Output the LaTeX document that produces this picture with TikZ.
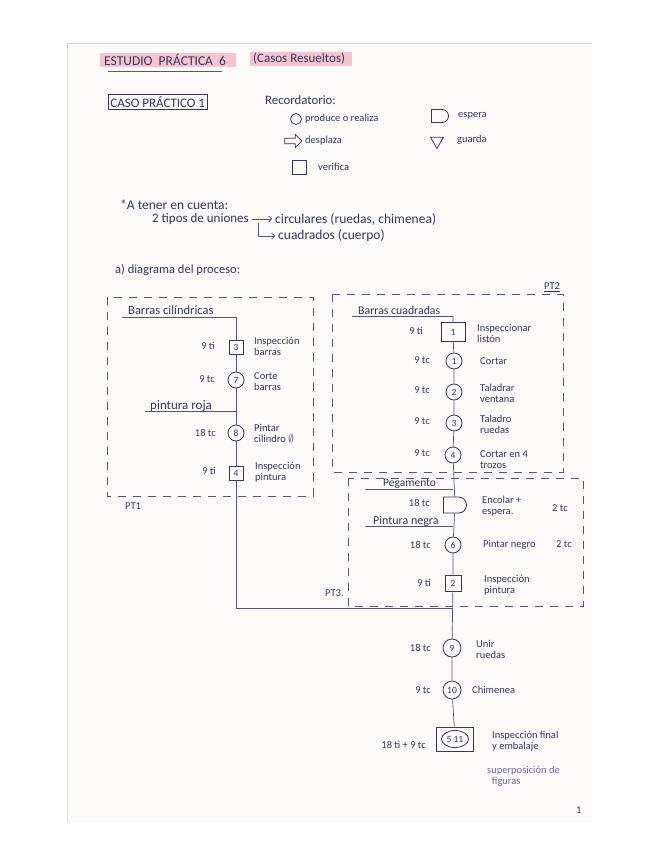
\documentclass[tikz,border=0pt]{standalone}
\usepackage{fontspec}
\setmainfont{Carlito}
\usetikzlibrary{shapes.misc,shapes.geometric,shapes.arrows,arrows.meta}
\definecolor{ink}{RGB}{55,55,95}
\definecolor{hl}{RGB}{246,196,206}
\definecolor{purp}{RGB}{115,105,175}
\definecolor{paper}{RGB}{251,250,249}
\definecolor{edge}{RGB}{226,214,198}
\newcommand{\fs}[1]{\fontsize{#1}{#1}\selectfont}
\begin{document}
\begin{tikzpicture}[x=1pt,y=-1pt,
  every node/.style={text=ink, font=\fontsize{10.5}{11}\selectfont},
  lbl/.style={anchor=west, align=left, inner sep=0pt},
  tm/.style={anchor=east, inner sep=0pt},
  opc/.style={circle, draw=ink, line width=0.8pt, minimum size=16pt, inner sep=0pt, font=\fontsize{9.5}{10}\selectfont},
  insp/.style={rectangle, draw=ink, line width=0.8pt, minimum size=14pt, inner sep=0pt, font=\fontsize{9.5}{10}\selectfont},
  flow/.style={draw=ink!85, line width=0.7pt},
  ptbox/.style={draw=ink!85, line width=0.7pt, dash pattern=on 8pt off 7pt},
  uline/.style={draw=ink!85, line width=0.6pt},
  arr/.style={draw=ink!85, line width=0.6pt, -{Straight Barb[length=3pt]}}
]
\useasboundingbox (0,0) rectangle (655,848);
% paper
\fill[paper] (67,43) rectangle (592,822);
\draw[edge, line width=0.8pt] (67,822) -- (67,43) -- (592,43);

% title
\fill[hl] (100,53) rectangle (236,67);
\fill[hl] (250,52) rectangle (352,66);
\node[lbl, font=\fs{13.5}] (title) at (104,60) {ESTUDIO \ PRÁCTICA \ 6};
\node[lbl, font=\fs{13}] (sub) at (253,59) {(Casos Resueltos)};
\draw[uline] (108,71) -- (222,71);

% caso
\node[draw=ink, line width=0.7pt, rectangle, inner sep=2pt, anchor=west, font=\fs{13}] (caso) at (108,102) {CASO PRÁCTICO 1};

% legend
\node[lbl, font=\fs{12.8}] (rec) at (265,100) {Recordatorio:};
\node[circle, draw=ink, line width=0.8pt, minimum size=11pt, inner sep=0pt] (lc) at (296,119) {};
\node[lbl] (lct) at (305,119) {produce o realiza};
\node[single arrow, draw=ink, line width=0.8pt, minimum height=17pt, minimum width=13pt, single arrow head extend=2pt, inner sep=1pt] (la) at (292,141) {};
\node[lbl] (lat) at (305,141) {desplaza};
\node[insp] (ls) at (299,167) {};
\node[lbl] (lst) at (318,167) {verifica};
\node[rounded rectangle, rounded rectangle left arc=none, draw=ink, line width=0.8pt, minimum width=17pt, minimum height=13pt, inner sep=0pt] (ld) at (440,116) {};
\node[lbl] (ldt) at (458,116) {espera};
\node[regular polygon, regular polygon sides=3, shape border rotate=180, draw=ink, line width=0.8pt, minimum size=15pt, inner sep=0pt] (lt) at (437,141) {};
\node[lbl] (ltt) at (457,140) {guarda};

% notes
\node[lbl, font=\fs{13.5}] (ten) at (120,205) {*A tener en cuenta:};
\node[lbl, font=\fs{13}] (tipos) at (152,219) {2 tipos de uniones};
\node[lbl, font=\fs{13.5}] (circ) at (275,219) {circulares (ruedas, chimenea)};
\node[lbl, font=\fs{13.5}] (cuad) at (278,236) {cuadrados (cuerpo)};
\draw[arr] ([xshift=3pt]tipos.east) -- ([xshift=-3pt]circ.west);
\coordinate (brk) at ([xshift=9pt,yshift=-4pt]tipos.east);
\draw[arr] (brk) |- ([xshift=-3pt]cuad.west);

\node[lbl, font=\fs{12.5}] (diag) at (115,270) {a) diagrama del proceso:};

% PT1
\draw[ptbox] (107,297) rectangle (313,496);
\node[lbl] (pt1) at (125,506) {PT1};
\node[lbl, font=\fs{12.5}] (bc) at (128,310) {Barras cilíndricas};
\coordinate (b1) at (236,317);
\draw[uline] (122,317) -- (b1);
\node[insp] (s3) at (236,347) {3};
\node[tm] at (215,346) {9 ti};
\node[lbl] at (254,346) {Inspección\\barras};
\node[opc] (c7) at (236,380) {7};
\node[tm] at (215,379) {9 tc};
\node[lbl] at (254,382) {Corte\\barras};
\node[lbl, font=\fs{13}] (pr) at (150,406) {pintura roja};
\coordinate (p1) at (236,411);
\draw[uline] (145,411) -- (p1);
\node[opc] (c8) at (236,433) {8};
\node[tm] at (216,433) {18 tc};
\node[lbl] at (254,434) {Pintar\\cilindro $\emptyset$};
\node[insp] (s4) at (236,473) {4};
\node[tm] at (216,471) {9 ti};
\node[lbl] at (255,472) {Inspección\\pintura};
\coordinate (j1) at (236,608);
\coordinate (j2) at (453,608);
\draw[flow] (b1) -- (s3) -- (c7) -- (c8) -- (s4) -- (j1) -- (j2);

% PT2
\draw[ptbox] (332,294) rectangle (563,472);
\node[lbl] (pt2) at (544,287) {\underline{PT2}};
\node[lbl, font=\fs{11.8}] (bq) at (358,310) {Barras cuadradas};
\coordinate (b2) at (453,316);
\draw[uline] (352,316) -- (b2);
\node[insp, minimum width=24pt, minimum height=19pt] (s1) at (453,332) {1};
\node[tm] at (423,331) {9 ti};
\node[lbl] at (477,333) {Inspeccionar\\listón};
\node[opc] (c1) at (454,361) {1};
\node[tm] at (430,360) {9 tc};
\node[lbl] at (480,361) {Cortar};
\node[opc] (c2) at (454,392) {2};
\node[tm] at (430,390) {9 tc};
\node[lbl] at (480,393) {Taladrar\\ventana};
\node[opc] (c3) at (454,423) {3};
\node[tm] at (430,421) {9 tc};
\node[lbl] at (480,424) {Taladro\\ruedas};
\node[opc] (c4) at (453,455) {4};
\node[tm] at (430,453) {9 tc};
\node[lbl] at (480,460) {Cortar en 4\\trozos};

% PT3
\draw[ptbox] (348,478) rectangle (583,606);
\node[lbl] (pt3) at (325,593) {PT3.};
\node[lbl, font=\fs{11.5}] (peg) at (383,484) {Pegamento};
\coordinate (g1) at (453,489);
\draw[uline] (365,489) -- (g1);
\node[rounded rectangle, rounded rectangle left arc=none, draw=ink, line width=0.8pt, minimum width=23pt, minimum height=16pt, inner sep=0pt] (esp) at (455,505) {};
\node[tm] at (430,503) {18 tc};
\node[lbl] at (482,506) {Encolar +\\espera.};
\node[lbl] at (552,508) {2 tc};
\node[lbl, font=\fs{12}] (pn) at (373,521) {Pintura negra};
\coordinate (g2) at (453,526);
\draw[uline] (365,526) -- (g2);
\node[opc] (c6) at (453,545) {6};
\node[tm] at (431,545) {18 tc};
\node[lbl] at (483,545) {Pintar negro};
\node[lbl] at (556,544) {2 tc};
\node[insp, minimum size=16pt] (s2) at (453,583) {2};
\node[tm] at (431,583) {9 ti};
\node[lbl] at (484,585) {Inspección\\pintura};

% final
\node[opc, minimum size=18pt] (c9) at (452,648) {9};
\node[tm] at (431,648) {18 tc};
\node[lbl] at (476,649) {Unir\\ruedas};
\node[opc, minimum size=18pt] (c10) at (452,690) {10};
\node[tm] at (431,690) {9 tc};
\node[lbl] at (472,690) {Chimenea};
\node[rectangle, draw=ink, line width=0.8pt, minimum width=37pt, minimum height=24pt, inner sep=0pt] (fin) at (455,739) {};
\node[ellipse, draw=ink, line width=0.8pt, minimum width=27pt, minimum height=17pt, inner sep=0pt, font=\fontsize{9.5}{10}\selectfont] (fine) at (455,739) {5 11};
\node[tm] at (426,745) {18 ti + 9 tc};
\node[lbl] at (492,741) {Inspección final\\y embalaje};
\node[lbl, text=purp] at (487,776) {superposición de\\\ \ figuras};
\node[lbl] at (576,810) {1};

\draw[flow] (b2) -- (s1) -- (c1) -- (c2) -- (c3) -- (c4) -- (esp) -- (c6) -- (s2) -- (c9) -- (c10) -- (fin);
\end{tikzpicture}
\end{document}
